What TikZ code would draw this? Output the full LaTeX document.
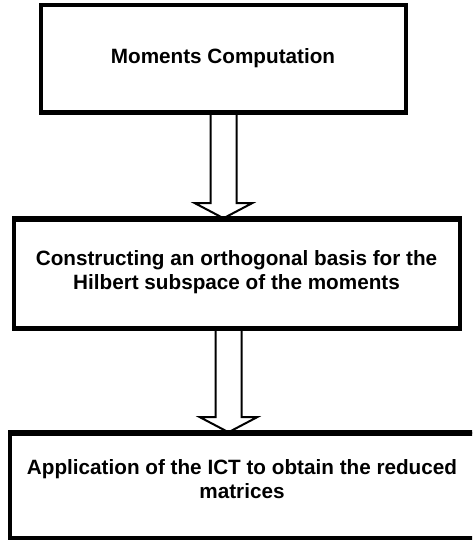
\documentclass[tikz,border=0pt]{standalone}
\usepackage{fontspec}
\setmainfont{Liberation Sans}
\usetikzlibrary{calc}

\tikzset{
  stage/.style={draw=black, line width=3.5pt, fill=white, inner sep=0pt},
  stagetext/.style={align=center, inner sep=0pt,
    font=\fontsize{20.7}{23.5}\selectfont\bfseries},
  blockarrow/.style={draw=black, line width=2pt, fill=white, line join=miter},
}

% hollow block arrow running from #1 (top of shaft) down to #2 (tip)
\newcommand\hollowarrow[2]{%
  \draw[blockarrow] let \p1=(#1), \p2=(#2) in
    (\x1-13pt,\y1) -- (\x1-13pt,\y2+15pt) -- (\x1-28.5pt,\y2+15pt) --
    (\x1,\y2) -- (\x1+28.5pt,\y2+15pt) -- (\x1+13pt,\y2+15pt) -- (\x1+13pt,\y1);}

\begin{document}
\begin{tikzpicture}[x=1pt, y=1pt]
  \fill[white] (0,0) rectangle (472,540);
  \useasboundingbox (0,0) rectangle (472,540);
  \clip (0,0) rectangle (472,540);

  % the three stages
  \node[stage, minimum width=365pt, minimum height=107pt] (box1) at (223.5,481.5) {};
  \node[stagetext] (t1) at (223,482) {Moments Computation};

  \node[stage, minimum width=446pt, minimum height=108pt] (box2) at (237,266) {};
  \node[stagetext] (t2) at (236.5,268) {Constructing an orthogonal basis for the\\Hilbert subspace of the moments};

  \node[stage, minimum width=472pt, minimum height=104pt] (box3) at (246,54) {};
  \node[stagetext] (t3) at (242,61) {Application of the ICT to obtain the reduced\\matrices};

  % connectors between the stages
  \coordinate (a1s) at (box1.south);
  \coordinate (a1e) at (box1.south |- box2.north);
  \coordinate (a2s) at ([xshift=-8.5pt]box2.south);
  \coordinate (a2e) at (a2s |- box3.north);
  \hollowarrow{a1s}{a1e}
  \hollowarrow{a2s}{a2e}

  % redraw the borders over the arrow ends
  \draw[line width=3.5pt] (box1.south west) -- (box1.south east);
  \draw[line width=3.5pt] (box2.north west) -- (box2.north east);
  \draw[line width=3.5pt] (box2.south west) -- (box2.south east);
  \draw[line width=3.5pt] (box3.north west) -- (box3.north east);
\end{tikzpicture}
\end{document}
